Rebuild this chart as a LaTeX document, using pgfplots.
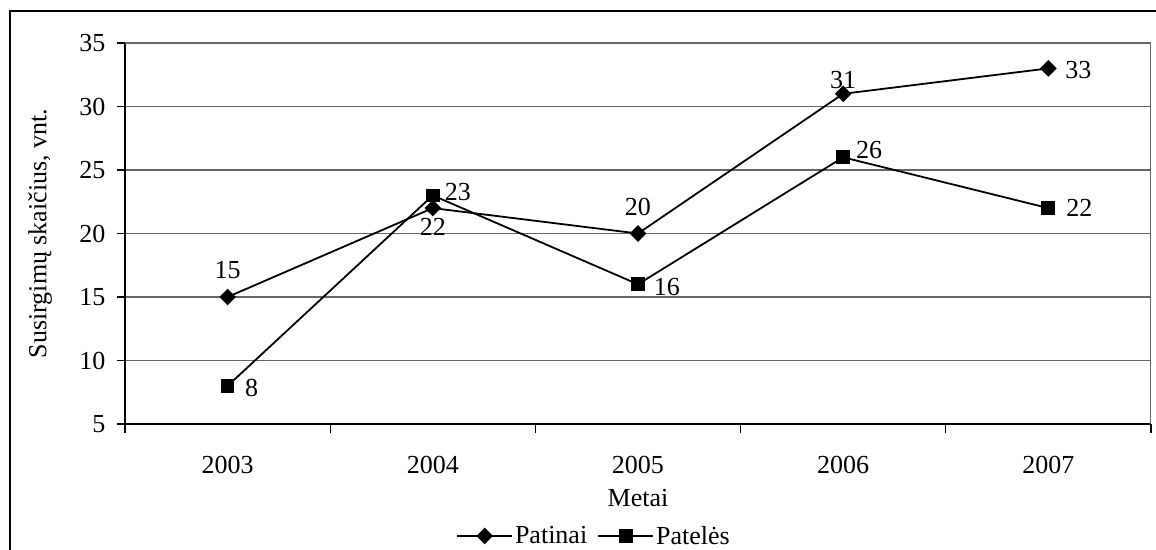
\documentclass[border=0pt]{standalone}
\usepackage{pgfplots}
\pgfplotsset{compat=1.18}
\usepackage{fontspec}
\setmainfont{Liberation Serif}
\begin{document}
\begin{tikzpicture}[x=1pt,y=1pt]
\useasboundingbox (0,0) rectangle (1156,549);
\draw[line width=1.5pt] (10,-5) -- (10,538) -- (1160,538);
\begin{axis}[
  at={(125pt,125pt)}, anchor=south west,
  scale only axis, width=1026pt, height=381pt,
  xmin=-0.5, xmax=4.5, ymin=5, ymax=35,
  ytick={5,10,...,35},
  xtick={0,1,2,3,4},
  xticklabels={2003,2004,2005,2006,2007},
  minor xtick={-0.5,0.5,1.5,2.5,3.5,4.5},
  major x tick style={draw=none},
  minor x tick style={black, line width=1.2pt},
  ytick style={black, line width=1.2pt},
  tick align=outside,
  major tick length=8pt, minor tick length=9pt,
  ymajorgrids, grid style={gray!80!black, line width=1.3pt},
  axis line style={line width=1.3pt},
  axis x line*=bottom, axis y line*=left,
  font=\fontsize{26}{30}\selectfont,
  /pgf/number format/assume math mode=true,
  xticklabel style={anchor=base, yshift=-41pt},
  yticklabel style={anchor=east, xshift=-8pt},
  xlabel={Metai},
  xlabel style={at={(axis description cs:0.5,0)}, anchor=base, yshift=-82pt},
  ylabel={Susirgimų skaičius, vnt.},
  ylabel style={at={(axis description cs:-0.0828,0.5)}, anchor=center, rotate=0},
  legend columns=2,
  legend style={draw=none, fill=none, at={(axis description cs:0.5,0)}, anchor=north,
    yshift=-100pt, xshift=-44pt, font=\fontsize{26}{30}\selectfont, inner sep=0pt,
    /tikz/every even column/.append style={column sep=8pt}},
  legend image code/.code={
    \draw[line width=1.8pt] (0pt,0pt) -- (55pt,0pt);
    \draw[#1] plot coordinates {(27.5pt,0pt)};
  },
]
\draw[gray!80!black, line width=1.3pt] (axis description cs:0,1) -- (axis description cs:1,1) -- (axis description cs:1,0);
\addplot[black, line width=1.8pt, mark=square*, mark size=5pt, mark options={rotate=45, solid}]
  coordinates {(0,15) (1,22) (2,20) (3,31) (4,33)};
\addlegendentry{Patinai}
\addplot[black, line width=1.8pt, mark=square*, mark size=6pt, mark options={solid}]
  coordinates {(0,8) (1,23) (2,16) (3,26) (4,22)};
\addlegendentry{Patelės}
\node at (axis cs:0,17.1) {15};
\node at (axis cs:1,20.5) {22};
\node at (axis cs:2,22.1) {20};
\node at (axis cs:3,32.1) {31};
\node at (axis cs:4,32.9) [xshift=30pt] {33};
\node at (axis cs:0,7.8) [xshift=24pt] {8};
\node at (axis cs:1,23.3) [xshift=25pt] {23};
\node at (axis cs:2,15.8) [xshift=29pt] {16};
\node at (axis cs:3,26.6) [xshift=26pt] {26};
\node at (axis cs:4,22) [xshift=31pt] {22};
\end{axis}
\end{tikzpicture}
\end{document}
